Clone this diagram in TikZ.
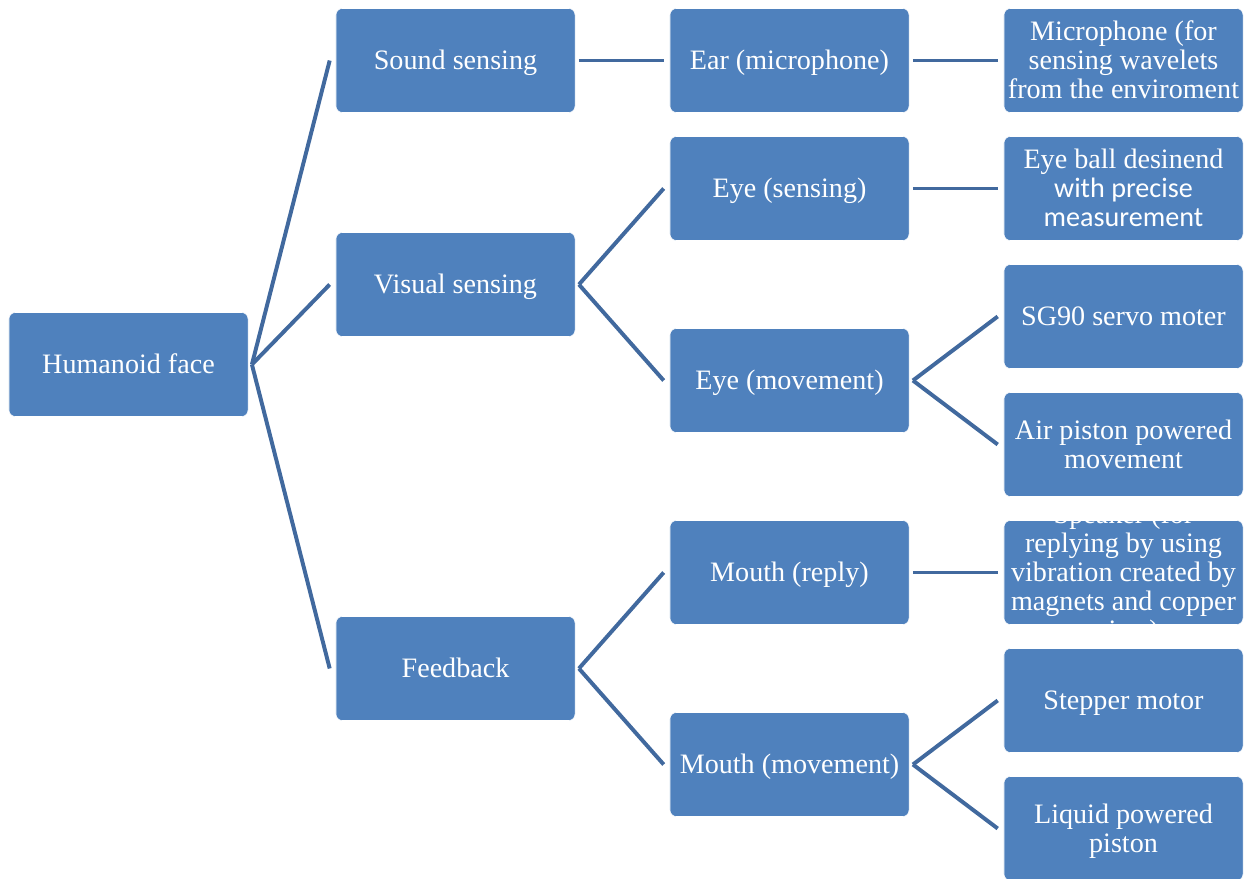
\documentclass[tikz,border=0pt]{standalone}
\usepackage{fontspec}
\setmainfont{Liberation Serif}
\newfontfamily\calibsans{Carlito}
\definecolor{boxblue}{HTML}{4F81BD}
\definecolor{linkblue}{HTML}{41699E}
\usetikzlibrary{positioning}

\tikzset{
  box/.style={fill=boxblue, draw=white, line width=0.4pt, rounded corners=0.16cm,
    minimum width=5.975cm, minimum height=2.6cm, inner sep=0pt, text=white,
    font=\fontsize{20}{20.6}\selectfont},
  link/.style={draw=linkblue, line width=2.8pt}
}
% text that may overflow its box, centred on the node
\newcommand{\boxtext}[1]{\smash{\raisebox{-7.5pt}{\parbox[c]{5.9cm}{\centering\strut #1\strut}}}}

\begin{document}
\begin{tikzpicture}[x=0.025cm, y=-0.025cm]
      \useasboundingbox (0,0) rectangle (1248,879);

      % root
      \node[box] (face) at (128.5,364.5) {\boxtext{Humanoid face}};

      % first level
      \node[box] (sound)    at (455.5,60.5)  {\boxtext{Sound sensing}};
      \node[box] (visual)   at (455.5,284.5) {\boxtext{Visual sensing}};
      \node[box] (feedback) at (455.5,668.5) {\boxtext{Feedback}};

      % second level
      \node[box] (ear)        at (789.5,60.5)  {\boxtext{Ear (microphone)}};
      \node[box] (eyesense)   at (789.5,188.5) {\boxtext{Eye (sensing)}};
      \node[box] (eyemove)    at (789.5,380.5) {\boxtext{Eye (movement)}};
      \node[box] (mouthreply) at (789.5,572.5) {\boxtext{Mouth (reply)}};
      \node[box] (mouthmove)  at (789.5,764.5) {\boxtext{Mouth (movement)}};

      % third level
      \node[box] (mic)     at (1123.5,60.5)  {\boxtext{Microphone (for\\sensing wavelets\\from the enviroment}};
      \node[box] (eyeball) at (1123.5,188.5) {\boxtext{Eye ball desinend\\{\calibsans with precise\\measurement}}};
      \node[box] (servo)   at (1123.5,316.5) {\boxtext{SG90 servo moter}};
      \node[box] (piston)  at (1123.5,444.5) {\boxtext{Air piston powered\\movement}};
      \node[box] (speaker) at (1123.5,572.5) {\boxtext{Speaker (for\\replying by using\\vibration created by\\magnets and copper\\wires)}};
      \node[box] (stepper) at (1123.5,700.5) {\boxtext{Stepper motor}};
      \node[box] (liquid)  at (1123.5,828.5) {\boxtext{Liquid powered\\piston}};

      % connectors, parent to child
      \foreach \a/\b in {face/sound, face/visual, face/feedback,
                         sound/ear, visual/eyesense, visual/eyemove,
                         feedback/mouthreply, feedback/mouthmove,
                         ear/mic, eyesense/eyeball, eyemove/servo, eyemove/piston,
                         mouthreply/speaker, mouthmove/stepper, mouthmove/liquid} {
        \draw[link] ([xshift=0.09cm]\a.east) -- ([xshift=-0.15cm]\b.west);
      }

    \end{tikzpicture}
\end{document}
